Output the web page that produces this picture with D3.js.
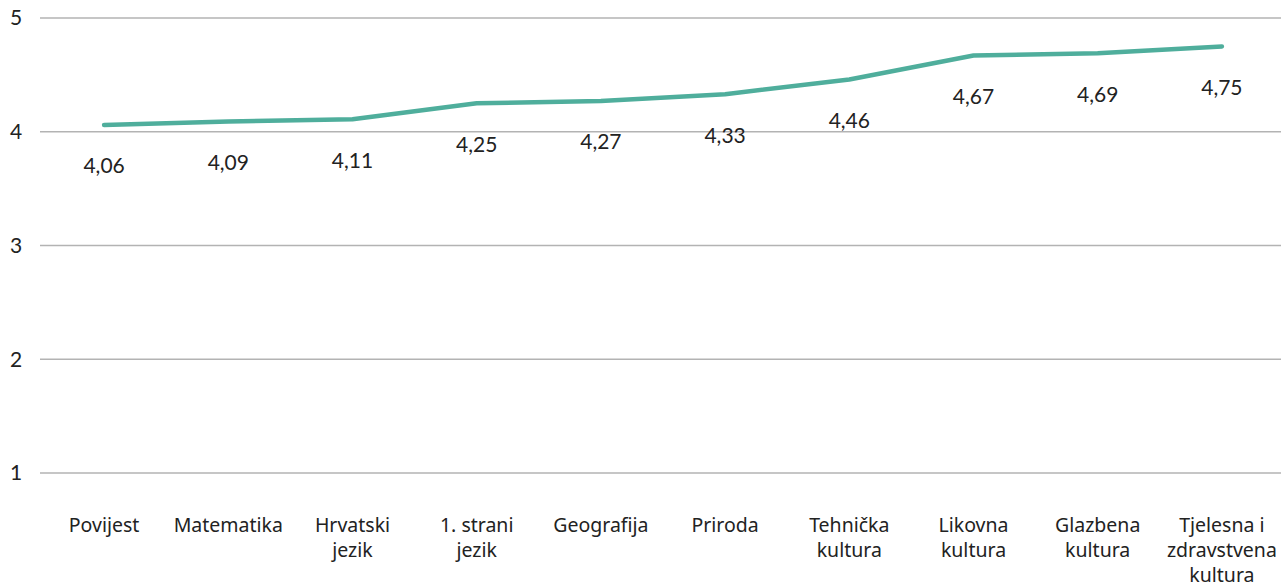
<!DOCTYPE html>
<html><head><meta charset="utf-8">
<script src="https://cdn.jsdelivr.net/npm/d3@7"></script>
<style>body{margin:0;background:#fff;}svg{display:block;}</style>
</head><body>
<svg id="c" width="1281" height="583"></svg>
<script>
const categories = [["Povijest"],["Matematika"],["Hrvatski","jezik"],["1. strani","jezik"],["Geografija"],["Priroda"],["Tehnička","kultura"],["Likovna","kultura"],["Glazbena","kultura"],["Tjelesna i","zdravstvena","kultura"]];
const values = [4.06,4.09,4.11,4.25,4.27,4.33,4.46,4.67,4.69,4.75];
const valueLabels = ["4,06","4,09","4,11","4,25","4,27","4,33","4,46","4,67","4,69","4,75"];
const yTicks = [1,2,3,4,5];

const svg = d3.select("#c");
const x = d3.scaleBand().domain(d3.range(categories.length)).range([42,1284]);
const y = d3.scaleLinear().domain([1,5]).range([473,18]);

const font = "'Noto Sans', sans-serif";
// gridlines
svg.append("g").selectAll("line").data(yTicks).join("line")
  .attr("x1",40).attr("x2",1281).attr("y1",d=>y(d)).attr("y2",d=>y(d))
  .attr("stroke","#b3b3b3").attr("stroke-width",1.3);
svg.append("g").selectAll("text").data(yTicks).join("text")
  .attr("x",16).attr("y",d=>y(d)).attr("dy","0.35em").attr("text-anchor","middle")
  .attr("font-family","Lato, sans-serif").attr("font-size",21).attr("fill","#222").text(d=>d);

// line
const line = d3.line().x((d,i)=>x(i)+x.bandwidth()/2).y(d=>y(d));
svg.append("path").datum(values).attr("d",line).attr("fill","none")
  .attr("stroke","#4fae9c").attr("stroke-width",4.5).attr("stroke-linecap","round").attr("stroke-linejoin","round");

// value labels
svg.append("g").selectAll("text").data(values).join("text")
  .attr("x",(d,i)=>x(i)+x.bandwidth()/2).attr("y",d=>y(d)+41).attr("dy","0.35em")
  .attr("text-anchor","middle").attr("font-family","Lato, sans-serif").attr("font-size",21).attr("fill","#222")
  .text((d,i)=>valueLabels[i]);

// category labels
const cg = svg.append("g").selectAll("text").data(categories).join("text")
  .attr("x",(d,i)=>x(i)+x.bandwidth()/2).attr("y",532).attr("dy","0.35em")
  .attr("text-anchor","middle").attr("font-family",font).attr("font-size",19.5).attr("fill","#222");
cg.selectAll("tspan").data((d,i)=>d.map(t=>({t,i}))).join("tspan")
  .attr("x",d=>x(d.i)+x.bandwidth()/2).attr("dy",(d,j)=>j===0?0:25).text(d=>d.t);
</script>
</body></html>
